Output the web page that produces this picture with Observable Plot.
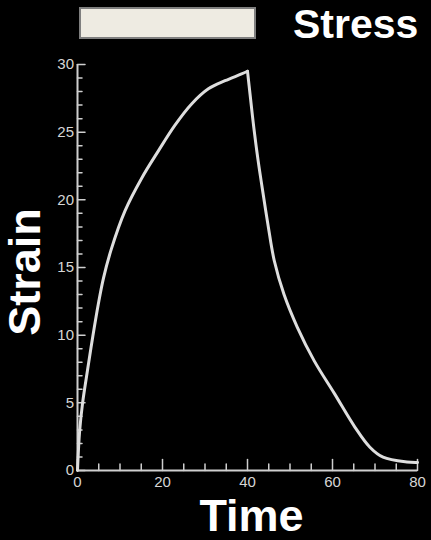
<!DOCTYPE html>
<html>
<head>
<meta charset="utf-8">
<script src="https://cdn.jsdelivr.net/npm/d3@7"></script>
<script src="https://cdn.jsdelivr.net/npm/@observablehq/plot@0.6"></script>
<style>
  html, body { margin: 0; padding: 0; background: #000; }
  #chart { width: 431px; height: 540px; position: relative; overflow: hidden; font-family: "Liberation Sans", Arial, sans-serif; }
  #legend { position: relative; height: 48px; }
  #legend .swatch { position: absolute; left: 79px; top: 7px; width: 177px; height: 32px; box-sizing: border-box; background: #eeebe2; border: 2px solid #7f7f7f; }
  #legend .label { position: absolute; left: 293px; top: 0.5px; font-size: 41px; line-height: 47px; font-weight: bold; color: #fff; white-space: nowrap; }
  #chart svg { display: block; }
</style>
</head>
<body>
<div id="chart">
  <div id="legend"><div class="swatch"></div><div class="label">Stress</div></div>
</div>
<script>
// Strain response over time: loading up to t = 40, then unloading.
const time   = [0, 0.5, 1.2, 2.4, 3.6, 4.9, 6.1, 7.9, 11.2, 15.1, 19.0, 22.9, 26.9, 30.8, 34.7, 38.6, 40,
                40.6, 41.5, 42.5, 43.7, 44.9, 46.3, 48.6, 51.7, 55.7, 60.5, 65.3, 68.8, 71.9, 77.5, 80];
const strain = [0, 2.9, 5.0, 7.5, 9.9, 12.3, 14.2, 16.3, 19.2, 21.6, 23.6, 25.5, 27.1, 28.2, 28.8, 29.3, 29.5,
                27.8, 25.3, 22.9, 20.4, 18.0, 15.5, 13.0, 10.6, 8.1, 5.66, 3.19, 1.72, 0.98, 0.63, 0.6];
const peakTime = 40;

// Axis ticks
const xMajorTicks = [0, 20, 40, 60, 80];
const xMinorTicks = [5, 10, 15, 25, 30, 35, 45, 50, 55, 65, 70, 75];
const yMajorTicks = [0, 5, 10, 15, 20, 25, 30];
const yMinorTicks = [1, 2, 3, 4, 6, 7, 8, 9, 11, 12, 13, 14, 16, 17, 18, 19, 21, 22, 23, 24, 26, 27, 28, 29];

// Split into loading / unloading so the peak keeps its sharp corner.
const rows = [];
time.forEach((t, i) => {
  if (t <= peakTime) rows.push({time: t, strain: strain[i], phase: "loading"});
  if (t >= peakTime) rows.push({time: t, strain: strain[i], phase: "unloading"});
});

const axisColor = "#cfcfcf";
const labelColor = "#d6d6d6";
const lineColor = "#dedede";

// Short straight tick drawn by the vector mark (points up before rotation).
const tickShape = {draw(context, l) { context.moveTo(0, 0); context.lineTo(0, -l); }};

const plot = Plot.plot({
  width: 431,
  height: 492,
  marginTop: 16,
  marginBottom: 70,
  marginLeft: 77,
  marginRight: 14,
  style: {background: "#000", color: labelColor, fontFamily: "'Liberation Sans', Arial, sans-serif"},
  x: {domain: [0, 80]},
  y: {domain: [0, 30]},
  marks: [
    // inward ticks
    Plot.vector(yMinorTicks, {x: 0, y: d => d, length: 4.5, rotate: 90, anchor: "start", shape: tickShape, stroke: axisColor, strokeWidth: 1.5}),
    Plot.vector(yMajorTicks, {x: 0, y: d => d, length: 7.5, rotate: 90, anchor: "start", shape: tickShape, stroke: axisColor, strokeWidth: 1.5}),
    Plot.vector(xMinorTicks, {x: d => d, y: 0, length: 6.5, rotate: 0, anchor: "start", shape: tickShape, stroke: axisColor, strokeWidth: 1.5}),
    Plot.vector(xMajorTicks, {x: d => d, y: 0, length: 11, rotate: 0, anchor: "start", shape: tickShape, stroke: axisColor, strokeWidth: 1.5}),
    // axis lines
    Plot.ruleY([0], {stroke: axisColor, strokeWidth: 2}),
    Plot.ruleX([0], {stroke: axisColor, strokeWidth: 2}),
    // tick labels
    Plot.axisY({ticks: yMajorTicks, tickSize: 0, tickPadding: 3.5, fontSize: 15, fill: labelColor, label: null}),
    Plot.axisX({ticks: xMajorTicks, tickSize: 0, tickPadding: 6, fontSize: 15, fill: labelColor, label: null}),
    // axis titles
    Plot.text(["Time"], {frameAnchor: "bottom", lineAnchor: "middle", textAnchor: "middle", dx: 4, dy: 46, fontSize: 45, fontWeight: "bold", fill: "#fff"}),
    Plot.text(["Strain"], {frameAnchor: "left", lineAnchor: "middle", textAnchor: "middle", rotate: -90, dx: -52, dy: 4.5, fontSize: 45, fontWeight: "bold", fill: "#fff"}),
    // stress curve
    Plot.line(rows, {x: "time", y: "strain", z: "phase", curve: "catmull-rom", stroke: lineColor, strokeWidth: 3})
  ]
});

document.getElementById("chart").appendChild(plot);
</script>
</body>
</html>
